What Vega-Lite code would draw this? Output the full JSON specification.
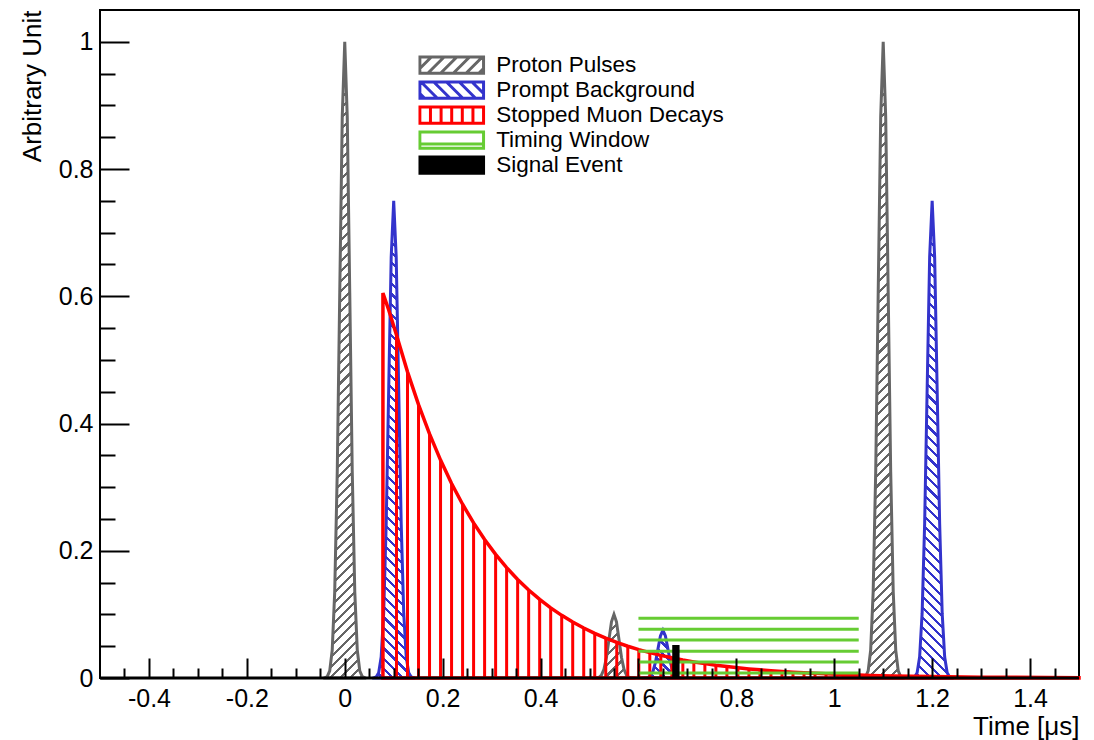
{
"$schema": "https://vega.github.io/schema/vega-lite/v6.json",
"width": 979, "height": 668,
"autosize": {"type": "none"},
"padding": {"left": 100, "top": 10, "right": 15, "bottom": 62},
"background": "white",
"config": {"view": {"stroke": "black", "strokeWidth": 2}, "font": "Liberation Sans"},
"datasets": {
"grayTall": [
{"p":"a","t":-0.0409,"y":0.0003},{"p":"a","t":-0.0358,"y":0.0022},{"p":"a","t":-0.0307,"y":0.0111},{"p":"a","t":-0.0256,"y":0.0439},{"p":"a","t":-0.0205,"y":0.1353},{"p":"a","t":-0.0153,"y":0.3247},{"p":"a","t":-0.0102,"y":0.6065},{"p":"a","t":-0.0051,"y":0.8825},{"p":"a","t":0,"y":1},{"p":"a","t":0.0051,"y":0.8825},{"p":"a","t":0.0102,"y":0.6065},{"p":"a","t":0.0153,"y":0.3247},{"p":"a","t":0.0205,"y":0.1353},{"p":"a","t":0.0256,"y":0.0439},{"p":"a","t":0.0307,"y":0.0111},{"p":"a","t":0.0358,"y":0.0022},{"p":"a","t":0.0409,"y":0.0003},
{"p":"b","t":1.0591,"y":0.0003},{"p":"b","t":1.0642,"y":0.0022},{"p":"b","t":1.0693,"y":0.0111},{"p":"b","t":1.0744,"y":0.0439},{"p":"b","t":1.0795,"y":0.1353},{"p":"b","t":1.0847,"y":0.3247},{"p":"b","t":1.0898,"y":0.6065},{"p":"b","t":1.0949,"y":0.8825},{"p":"b","t":1.1,"y":1},{"p":"b","t":1.1051,"y":0.8825},{"p":"b","t":1.1102,"y":0.6065},{"p":"b","t":1.1153,"y":0.3247},{"p":"b","t":1.1205,"y":0.1353},{"p":"b","t":1.1256,"y":0.0439},{"p":"b","t":1.1307,"y":0.0111},{"p":"b","t":1.1358,"y":0.0022},{"p":"b","t":1.1409,"y":0.0003}
],
"graySmall": [
{"t":0.5091,"y":0.00003},{"t":0.5142,"y":0.0002},{"t":0.5193,"y":0.0011},{"t":0.5244,"y":0.0044},{"t":0.5295,"y":0.0135},{"t":0.5347,"y":0.0325},{"t":0.5398,"y":0.0607},{"t":0.5449,"y":0.0883},{"t":0.55,"y":0.1},{"t":0.5551,"y":0.0883},{"t":0.5602,"y":0.0607},{"t":0.5653,"y":0.0325},{"t":0.5705,"y":0.0135},{"t":0.5756,"y":0.0044},{"t":0.5807,"y":0.0011},{"t":0.5858,"y":0.0002},{"t":0.5909,"y":0.00003}
],
"blueTall": [
{"p":"c","t":0.0591,"y":0.0002},{"p":"c","t":0.0642,"y":0.0017},{"p":"c","t":0.0693,"y":0.0083},{"p":"c","t":0.0744,"y":0.0329},{"p":"c","t":0.0795,"y":0.1015},{"p":"c","t":0.0847,"y":0.2435},{"p":"c","t":0.0898,"y":0.4549},{"p":"c","t":0.0949,"y":0.6619},{"p":"c","t":0.1,"y":0.75},{"p":"c","t":0.1051,"y":0.6619},{"p":"c","t":0.1102,"y":0.4549},{"p":"c","t":0.1153,"y":0.2435},{"p":"c","t":0.1205,"y":0.1015},{"p":"c","t":0.1256,"y":0.0329},{"p":"c","t":0.1307,"y":0.0083},{"p":"c","t":0.1358,"y":0.0017},{"p":"c","t":0.1409,"y":0.0002},
{"p":"d","t":1.1591,"y":0.0002},{"p":"d","t":1.1642,"y":0.0017},{"p":"d","t":1.1693,"y":0.0083},{"p":"d","t":1.1744,"y":0.0329},{"p":"d","t":1.1795,"y":0.1015},{"p":"d","t":1.1847,"y":0.2435},{"p":"d","t":1.1898,"y":0.4549},{"p":"d","t":1.1949,"y":0.6619},{"p":"d","t":1.2,"y":0.75},{"p":"d","t":1.2051,"y":0.6619},{"p":"d","t":1.2102,"y":0.4549},{"p":"d","t":1.2153,"y":0.2435},{"p":"d","t":1.2205,"y":0.1015},{"p":"d","t":1.2256,"y":0.0329},{"p":"d","t":1.2307,"y":0.0083},{"p":"d","t":1.2358,"y":0.0017},{"p":"d","t":1.2409,"y":0.0002}
],
"blueSmall": [
{"t":0.6091,"y":0.00002},{"t":0.6142,"y":0.0002},{"t":0.6193,"y":0.0008},{"t":0.6244,"y":0.0033},{"t":0.6295,"y":0.0101},{"t":0.6347,"y":0.0244},{"t":0.6398,"y":0.0455},{"t":0.6449,"y":0.0662},{"t":0.65,"y":0.075},{"t":0.6551,"y":0.0662},{"t":0.6602,"y":0.0455},{"t":0.6653,"y":0.0244},{"t":0.6705,"y":0.0101},{"t":0.6756,"y":0.0033},{"t":0.6807,"y":0.0008},{"t":0.6858,"y":0.0002},{"t":0.6909,"y":0.00002}
],
"decay": [
{"t":0.078,"y":0.605},{"t":0.09,"y":0.578},
{"t":0.1057,"y":0.539},{"t":0.1282,"y":0.4812},{"t":0.1507,"y":0.4297},{"t":0.1732,"y":0.3836},{"t":0.1957,"y":0.3425},{"t":0.2182,"y":0.3058},{"t":0.2407,"y":0.2731},{"t":0.2632,"y":0.2438},{"t":0.2857,"y":0.2177},{"t":0.3082,"y":0.1943},
{"t":0.3307,"y":0.1735},{"t":0.3532,"y":0.1549},{"t":0.3757,"y":0.1383},{"t":0.3982,"y":0.1235},{"t":0.4207,"y":0.1103},{"t":0.4432,"y":0.0985},{"t":0.4657,"y":0.0879},{"t":0.4882,"y":0.0785},{"t":0.5107,"y":0.0701},{"t":0.5332,"y":0.0626},
{"t":0.5557,"y":0.0559},{"t":0.5782,"y":0.0499},{"t":0.6007,"y":0.0445},{"t":0.6232,"y":0.0398},{"t":0.6457,"y":0.0355},{"t":0.6682,"y":0.0317},{"t":0.6907,"y":0.0283},{"t":0.7132,"y":0.0253},{"t":0.7357,"y":0.0226},{"t":0.7582,"y":0.0201},
{"t":0.7807,"y":0.018},{"t":0.8032,"y":0.016},{"t":0.8257,"y":0.0143},{"t":0.8482,"y":0.0128},{"t":0.8707,"y":0.0114},{"t":0.8932,"y":0.0102},{"t":0.9157,"y":0.0091},{"t":0.9382,"y":0.0081},{"t":0.9607,"y":0.0073},{"t":0.9832,"y":0.0065},
{"t":1.0057,"y":0.0058},{"t":1.0282,"y":0.0052},{"t":1.0507,"y":0.0046},{"t":1.0732,"y":0.0041},{"t":1.0957,"y":0.0037},{"t":1.1182,"y":0.0033},
{"t":1.2,"y":0.0022},{"t":1.3,"y":0.0013},{"t":1.5,"y":0.0005}
],
"window": [
{"t0":0.6,"t1":1.05,"y":0.0938},{"t0":0.6,"t1":1.05,"y":0.0766},{"t0":0.6,"t1":1.05,"y":0.0597},{"t0":0.6,"t1":1.05,"y":0.042},{"t0":0.6,"t1":1.05,"y":0.0251},{"t0":0.6,"t1":1.05,"y":0.0079}
],
"signal": [{"t0":0.669,"t1":0.684,"y":0.0519}],
"baseline": [{"y":0}],
"legend": [{"series":"Proton Pulses"},{"series":"Prompt Background"},{"series":"Stopped Muon Decays"},{"series":"Timing Window"},{"series":"Signal Event"}]
},
"resolve": {"axis": {"x": "independent", "y": "independent"}},
"layer": [
{
"data": {"name": "grayTall"},
"mark": {"type": "area", "stroke": "#666", "strokeWidth": 3,
 "fill": {"gradient": "linear", "x1": 0, "y1": 0, "x2": 0.0667, "y2": 1.06, "stops": [
{"offset":0,"color":"#fff"},{"offset":0,"color":"#666"},{"offset":0.0045,"color":"#666"},{"offset":0.0045,"color":"#fff"},
{"offset":0.015,"color":"#fff"},{"offset":0.015,"color":"#666"},{"offset":0.0195,"color":"#666"},{"offset":0.0195,"color":"#fff"},
{"offset":0.03,"color":"#fff"},{"offset":0.03,"color":"#666"},{"offset":0.0345,"color":"#666"},{"offset":0.0345,"color":"#fff"},
{"offset":0.045,"color":"#fff"},{"offset":0.045,"color":"#666"},{"offset":0.0495,"color":"#666"},{"offset":0.0495,"color":"#fff"},
{"offset":0.06,"color":"#fff"},{"offset":0.06,"color":"#666"},{"offset":0.0645,"color":"#666"},{"offset":0.0645,"color":"#fff"},
{"offset":0.075,"color":"#fff"},{"offset":0.075,"color":"#666"},{"offset":0.0795,"color":"#666"},{"offset":0.0795,"color":"#fff"},
{"offset":0.09,"color":"#fff"},{"offset":0.09,"color":"#666"},{"offset":0.0945,"color":"#666"},{"offset":0.0945,"color":"#fff"},
{"offset":0.105,"color":"#fff"},{"offset":0.105,"color":"#666"},{"offset":0.1095,"color":"#666"},{"offset":0.1095,"color":"#fff"},
{"offset":0.12,"color":"#fff"},{"offset":0.12,"color":"#666"},{"offset":0.1245,"color":"#666"},{"offset":0.1245,"color":"#fff"},
{"offset":0.135,"color":"#fff"},{"offset":0.135,"color":"#666"},{"offset":0.1395,"color":"#666"},{"offset":0.1395,"color":"#fff"},
{"offset":0.15,"color":"#fff"},{"offset":0.15,"color":"#666"},{"offset":0.1545,"color":"#666"},{"offset":0.1545,"color":"#fff"},
{"offset":0.165,"color":"#fff"},{"offset":0.165,"color":"#666"},{"offset":0.1695,"color":"#666"},{"offset":0.1695,"color":"#fff"},
{"offset":0.18,"color":"#fff"},{"offset":0.18,"color":"#666"},{"offset":0.1845,"color":"#666"},{"offset":0.1845,"color":"#fff"},
{"offset":0.195,"color":"#fff"},{"offset":0.195,"color":"#666"},{"offset":0.1995,"color":"#666"},{"offset":0.1995,"color":"#fff"},
{"offset":0.21,"color":"#fff"},{"offset":0.21,"color":"#666"},{"offset":0.2145,"color":"#666"},{"offset":0.2145,"color":"#fff"},
{"offset":0.225,"color":"#fff"},{"offset":0.225,"color":"#666"},{"offset":0.2295,"color":"#666"},{"offset":0.2295,"color":"#fff"},
{"offset":0.24,"color":"#fff"},{"offset":0.24,"color":"#666"},{"offset":0.2445,"color":"#666"},{"offset":0.2445,"color":"#fff"},
{"offset":0.255,"color":"#fff"},{"offset":0.255,"color":"#666"},{"offset":0.2595,"color":"#666"},{"offset":0.2595,"color":"#fff"},
{"offset":0.27,"color":"#fff"},{"offset":0.27,"color":"#666"},{"offset":0.2745,"color":"#666"},{"offset":0.2745,"color":"#fff"},
{"offset":0.285,"color":"#fff"},{"offset":0.285,"color":"#666"},{"offset":0.2895,"color":"#666"},{"offset":0.2895,"color":"#fff"},
{"offset":0.3,"color":"#fff"},{"offset":0.3,"color":"#666"},{"offset":0.3045,"color":"#666"},{"offset":0.3045,"color":"#fff"},
{"offset":0.315,"color":"#fff"},{"offset":0.315,"color":"#666"},{"offset":0.3195,"color":"#666"},{"offset":0.3195,"color":"#fff"},
{"offset":0.33,"color":"#fff"},{"offset":0.33,"color":"#666"},{"offset":0.3345,"color":"#666"},{"offset":0.3345,"color":"#fff"},
{"offset":0.345,"color":"#fff"},{"offset":0.345,"color":"#666"},{"offset":0.3495,"color":"#666"},{"offset":0.3495,"color":"#fff"},
{"offset":0.36,"color":"#fff"},{"offset":0.36,"color":"#666"},{"offset":0.3645,"color":"#666"},{"offset":0.3645,"color":"#fff"},
{"offset":0.375,"color":"#fff"},{"offset":0.375,"color":"#666"},{"offset":0.3795,"color":"#666"},{"offset":0.3795,"color":"#fff"},
{"offset":0.39,"color":"#fff"},{"offset":0.39,"color":"#666"},{"offset":0.3945,"color":"#666"},{"offset":0.3945,"color":"#fff"},
{"offset":0.405,"color":"#fff"},{"offset":0.405,"color":"#666"},{"offset":0.4095,"color":"#666"},{"offset":0.4095,"color":"#fff"},
{"offset":0.42,"color":"#fff"},{"offset":0.42,"color":"#666"},{"offset":0.4245,"color":"#666"},{"offset":0.4245,"color":"#fff"},
{"offset":0.435,"color":"#fff"},{"offset":0.435,"color":"#666"},{"offset":0.4395,"color":"#666"},{"offset":0.4395,"color":"#fff"},
{"offset":0.45,"color":"#fff"},{"offset":0.45,"color":"#666"},{"offset":0.4545,"color":"#666"},{"offset":0.4545,"color":"#fff"},
{"offset":0.465,"color":"#fff"},{"offset":0.465,"color":"#666"},{"offset":0.4695,"color":"#666"},{"offset":0.4695,"color":"#fff"},
{"offset":0.48,"color":"#fff"},{"offset":0.48,"color":"#666"},{"offset":0.4845,"color":"#666"},{"offset":0.4845,"color":"#fff"},
{"offset":0.495,"color":"#fff"},{"offset":0.495,"color":"#666"},{"offset":0.4995,"color":"#666"},{"offset":0.4995,"color":"#fff"},
{"offset":0.51,"color":"#fff"},{"offset":0.51,"color":"#666"},{"offset":0.5145,"color":"#666"},{"offset":0.5145,"color":"#fff"},
{"offset":0.525,"color":"#fff"},{"offset":0.525,"color":"#666"},{"offset":0.5295,"color":"#666"},{"offset":0.5295,"color":"#fff"},
{"offset":0.54,"color":"#fff"},{"offset":0.54,"color":"#666"},{"offset":0.5445,"color":"#666"},{"offset":0.5445,"color":"#fff"},
{"offset":0.555,"color":"#fff"},{"offset":0.555,"color":"#666"},{"offset":0.5595,"color":"#666"},{"offset":0.5595,"color":"#fff"},
{"offset":0.57,"color":"#fff"},{"offset":0.57,"color":"#666"},{"offset":0.5745,"color":"#666"},{"offset":0.5745,"color":"#fff"},
{"offset":0.585,"color":"#fff"},{"offset":0.585,"color":"#666"},{"offset":0.5895,"color":"#666"},{"offset":0.5895,"color":"#fff"},
{"offset":0.6,"color":"#fff"},{"offset":0.6,"color":"#666"},{"offset":0.6045,"color":"#666"},{"offset":0.6045,"color":"#fff"},
{"offset":0.615,"color":"#fff"},{"offset":0.615,"color":"#666"},{"offset":0.6195,"color":"#666"},{"offset":0.6195,"color":"#fff"},
{"offset":0.63,"color":"#fff"},{"offset":0.63,"color":"#666"},{"offset":0.6345,"color":"#666"},{"offset":0.6345,"color":"#fff"},
{"offset":0.645,"color":"#fff"},{"offset":0.645,"color":"#666"},{"offset":0.6495,"color":"#666"},{"offset":0.6495,"color":"#fff"},
{"offset":0.66,"color":"#fff"},{"offset":0.66,"color":"#666"},{"offset":0.6645,"color":"#666"},{"offset":0.6645,"color":"#fff"},
{"offset":0.675,"color":"#fff"},{"offset":0.675,"color":"#666"},{"offset":0.6795,"color":"#666"},{"offset":0.6795,"color":"#fff"},
{"offset":0.69,"color":"#fff"},{"offset":0.69,"color":"#666"},{"offset":0.6945,"color":"#666"},{"offset":0.6945,"color":"#fff"},
{"offset":0.705,"color":"#fff"},{"offset":0.705,"color":"#666"},{"offset":0.7095,"color":"#666"},{"offset":0.7095,"color":"#fff"},
{"offset":0.72,"color":"#fff"},{"offset":0.72,"color":"#666"},{"offset":0.7245,"color":"#666"},{"offset":0.7245,"color":"#fff"},
{"offset":0.735,"color":"#fff"},{"offset":0.735,"color":"#666"},{"offset":0.7395,"color":"#666"},{"offset":0.7395,"color":"#fff"},
{"offset":0.75,"color":"#fff"},{"offset":0.75,"color":"#666"},{"offset":0.7545,"color":"#666"},{"offset":0.7545,"color":"#fff"},
{"offset":0.765,"color":"#fff"},{"offset":0.765,"color":"#666"},{"offset":0.7695,"color":"#666"},{"offset":0.7695,"color":"#fff"},
{"offset":0.78,"color":"#fff"},{"offset":0.78,"color":"#666"},{"offset":0.7845,"color":"#666"},{"offset":0.7845,"color":"#fff"},
{"offset":0.795,"color":"#fff"},{"offset":0.795,"color":"#666"},{"offset":0.7995,"color":"#666"},{"offset":0.7995,"color":"#fff"},
{"offset":0.81,"color":"#fff"},{"offset":0.81,"color":"#666"},{"offset":0.8145,"color":"#666"},{"offset":0.8145,"color":"#fff"},
{"offset":0.825,"color":"#fff"},{"offset":0.825,"color":"#666"},{"offset":0.8295,"color":"#666"},{"offset":0.8295,"color":"#fff"},
{"offset":0.84,"color":"#fff"},{"offset":0.84,"color":"#666"},{"offset":0.8445,"color":"#666"},{"offset":0.8445,"color":"#fff"},
{"offset":0.855,"color":"#fff"},{"offset":0.855,"color":"#666"},{"offset":0.8595,"color":"#666"},{"offset":0.8595,"color":"#fff"},
{"offset":0.87,"color":"#fff"},{"offset":0.87,"color":"#666"},{"offset":0.8745,"color":"#666"},{"offset":0.8745,"color":"#fff"},
{"offset":0.885,"color":"#fff"},{"offset":0.885,"color":"#666"},{"offset":0.8895,"color":"#666"},{"offset":0.8895,"color":"#fff"},
{"offset":0.9,"color":"#fff"},{"offset":0.9,"color":"#666"},{"offset":0.9045,"color":"#666"},{"offset":0.9045,"color":"#fff"},
{"offset":0.915,"color":"#fff"},{"offset":0.915,"color":"#666"},{"offset":0.9195,"color":"#666"},{"offset":0.9195,"color":"#fff"},
{"offset":0.93,"color":"#fff"},{"offset":0.93,"color":"#666"},{"offset":0.9345,"color":"#666"},{"offset":0.9345,"color":"#fff"},
{"offset":0.945,"color":"#fff"},{"offset":0.945,"color":"#666"},{"offset":0.9495,"color":"#666"},{"offset":0.9495,"color":"#fff"},
{"offset":0.96,"color":"#fff"},{"offset":0.96,"color":"#666"},{"offset":0.9645,"color":"#666"},{"offset":0.9645,"color":"#fff"},
{"offset":0.975,"color":"#fff"},{"offset":0.975,"color":"#666"},{"offset":0.9795,"color":"#666"},{"offset":0.9795,"color":"#fff"},
{"offset":0.99,"color":"#fff"},{"offset":0.99,"color":"#666"},{"offset":0.9945,"color":"#666"},{"offset":0.9945,"color":"#fff"}
]}},
"encoding": {
"x": {"field": "t", "type": "quantitative", "scale": {"domain": [-0.5, 1.5], "nice": false, "zero": false},
 "axis": {"orient": "bottom", "offset": -20, "tickSize": 20, "tickWidth": 2, "tickColor": "black", "domain": false, "grid": false,
  "values": [-0.4, -0.2, 0, 0.2, 0.4, 0.6, 0.8, 1, 1.2, 1.4], "labelExpr": "datum.value + ''",
  "labelFont": "Liberation Sans", "labelFontSize": 25, "labelColor": "black", "labelPadding": 8, "labelFlush": false, "labelOverlap": false, "labelBound": false,
  "title": "Time [μs]", "titleAnchor": "end", "titleFont": "Liberation Sans", "titleFontSize": 26, "titleFontWeight": "normal", "titleColor": "black", "titlePadding": 2, "zindex": 1}},
"y": {"field": "y", "type": "quantitative", "stack": null, "scale": {"domain": [0, 1.05], "nice": false, "zero": false},
 "axis": {"orient": "left", "offset": -29, "tickSize": 29, "tickWidth": 2, "tickColor": "black", "domain": false, "grid": false,
  "values": [0, 0.2, 0.4, 0.6, 0.8, 1], "labelExpr": "datum.value + ''",
  "labelFont": "Liberation Sans", "labelFontSize": 25, "labelColor": "black", "labelPadding": 7, "labelFlush": false, "labelOverlap": false, "labelBound": false,
  "title": "Arbitrary Unit", "titleAnchor": "end", "titleFont": "Liberation Sans", "titleFontSize": 26, "titleFontWeight": "normal", "titleColor": "black", "titlePadding": 13, "zindex": 1}},
"detail": {"field": "p"}
}
},
{
"data": {"name": "graySmall"},
"mark": {"type": "area", "stroke": "#666", "strokeWidth": 3,
 "fill": {"gradient": "linear", "x1": 0, "y1": 0, "x2": 0.7346, "y2": 1.167, "stops": [
{"offset":0,"color":"#fff"},{"offset":0,"color":"#666"},{"offset":0.03,"color":"#666"},{"offset":0.03,"color":"#fff"},
{"offset":0.1,"color":"#fff"},{"offset":0.1,"color":"#666"},{"offset":0.13,"color":"#666"},{"offset":0.13,"color":"#fff"},
{"offset":0.2,"color":"#fff"},{"offset":0.2,"color":"#666"},{"offset":0.23,"color":"#666"},{"offset":0.23,"color":"#fff"},
{"offset":0.3,"color":"#fff"},{"offset":0.3,"color":"#666"},{"offset":0.33,"color":"#666"},{"offset":0.33,"color":"#fff"},
{"offset":0.4,"color":"#fff"},{"offset":0.4,"color":"#666"},{"offset":0.43,"color":"#666"},{"offset":0.43,"color":"#fff"},
{"offset":0.5,"color":"#fff"},{"offset":0.5,"color":"#666"},{"offset":0.53,"color":"#666"},{"offset":0.53,"color":"#fff"},
{"offset":0.6,"color":"#fff"},{"offset":0.6,"color":"#666"},{"offset":0.63,"color":"#666"},{"offset":0.63,"color":"#fff"},
{"offset":0.7,"color":"#fff"},{"offset":0.7,"color":"#666"},{"offset":0.73,"color":"#666"},{"offset":0.73,"color":"#fff"},
{"offset":0.8,"color":"#fff"},{"offset":0.8,"color":"#666"},{"offset":0.83,"color":"#666"},{"offset":0.83,"color":"#fff"},
{"offset":0.9,"color":"#fff"},{"offset":0.9,"color":"#666"},{"offset":0.93,"color":"#666"},{"offset":0.93,"color":"#fff"}
]}},
"encoding": {
"x": {"field": "t", "type": "quantitative",
 "axis": {"orient": "bottom", "offset": -10, "tickSize": 10, "tickWidth": 2, "tickColor": "black", "domain": false, "grid": false, "labels": false, "title": null, "zindex": 1,
  "values": [-0.45, -0.35, -0.3, -0.25, -0.15, -0.1, -0.05, 0.05, 0.1, 0.15, 0.25, 0.3, 0.35, 0.45, 0.5, 0.55, 0.65, 0.7, 0.75, 0.85, 0.9, 0.95, 1.05, 1.1, 1.15, 1.25, 1.3, 1.35, 1.45]}},
"y": {"field": "y", "type": "quantitative", "stack": null,
 "axis": {"orient": "left", "offset": -15, "tickSize": 15, "tickWidth": 2, "tickColor": "black", "domain": false, "grid": false, "labels": false, "title": null, "zindex": 1,
  "values": [0.05, 0.1, 0.15, 0.25, 0.3, 0.35, 0.45, 0.5, 0.55, 0.65, 0.7, 0.75, 0.85, 0.9, 0.95]}}
}
},
{
"data": {"name": "blueTall"},
"mark": {"type": "area", "stroke": "#33c", "strokeWidth": 3,
 "fill": {"gradient": "linear", "x1": 1, "y1": 0, "x2": 0.9097, "y2": 1.0763, "stops": [
{"offset":0,"color":"#fff"},{"offset":0,"color":"#33c"},{"offset":0.006,"color":"#33c"},{"offset":0.006,"color":"#fff"},
{"offset":0.02,"color":"#fff"},{"offset":0.02,"color":"#33c"},{"offset":0.026,"color":"#33c"},{"offset":0.026,"color":"#fff"},
{"offset":0.04,"color":"#fff"},{"offset":0.04,"color":"#33c"},{"offset":0.046,"color":"#33c"},{"offset":0.046,"color":"#fff"},
{"offset":0.06,"color":"#fff"},{"offset":0.06,"color":"#33c"},{"offset":0.066,"color":"#33c"},{"offset":0.066,"color":"#fff"},
{"offset":0.08,"color":"#fff"},{"offset":0.08,"color":"#33c"},{"offset":0.086,"color":"#33c"},{"offset":0.086,"color":"#fff"},
{"offset":0.1,"color":"#fff"},{"offset":0.1,"color":"#33c"},{"offset":0.106,"color":"#33c"},{"offset":0.106,"color":"#fff"},
{"offset":0.12,"color":"#fff"},{"offset":0.12,"color":"#33c"},{"offset":0.126,"color":"#33c"},{"offset":0.126,"color":"#fff"},
{"offset":0.14,"color":"#fff"},{"offset":0.14,"color":"#33c"},{"offset":0.146,"color":"#33c"},{"offset":0.146,"color":"#fff"},
{"offset":0.16,"color":"#fff"},{"offset":0.16,"color":"#33c"},{"offset":0.166,"color":"#33c"},{"offset":0.166,"color":"#fff"},
{"offset":0.18,"color":"#fff"},{"offset":0.18,"color":"#33c"},{"offset":0.186,"color":"#33c"},{"offset":0.186,"color":"#fff"},
{"offset":0.2,"color":"#fff"},{"offset":0.2,"color":"#33c"},{"offset":0.206,"color":"#33c"},{"offset":0.206,"color":"#fff"},
{"offset":0.22,"color":"#fff"},{"offset":0.22,"color":"#33c"},{"offset":0.226,"color":"#33c"},{"offset":0.226,"color":"#fff"},
{"offset":0.24,"color":"#fff"},{"offset":0.24,"color":"#33c"},{"offset":0.246,"color":"#33c"},{"offset":0.246,"color":"#fff"},
{"offset":0.26,"color":"#fff"},{"offset":0.26,"color":"#33c"},{"offset":0.266,"color":"#33c"},{"offset":0.266,"color":"#fff"},
{"offset":0.28,"color":"#fff"},{"offset":0.28,"color":"#33c"},{"offset":0.286,"color":"#33c"},{"offset":0.286,"color":"#fff"},
{"offset":0.3,"color":"#fff"},{"offset":0.3,"color":"#33c"},{"offset":0.306,"color":"#33c"},{"offset":0.306,"color":"#fff"},
{"offset":0.32,"color":"#fff"},{"offset":0.32,"color":"#33c"},{"offset":0.326,"color":"#33c"},{"offset":0.326,"color":"#fff"},
{"offset":0.34,"color":"#fff"},{"offset":0.34,"color":"#33c"},{"offset":0.346,"color":"#33c"},{"offset":0.346,"color":"#fff"},
{"offset":0.36,"color":"#fff"},{"offset":0.36,"color":"#33c"},{"offset":0.366,"color":"#33c"},{"offset":0.366,"color":"#fff"},
{"offset":0.38,"color":"#fff"},{"offset":0.38,"color":"#33c"},{"offset":0.386,"color":"#33c"},{"offset":0.386,"color":"#fff"},
{"offset":0.4,"color":"#fff"},{"offset":0.4,"color":"#33c"},{"offset":0.406,"color":"#33c"},{"offset":0.406,"color":"#fff"},
{"offset":0.42,"color":"#fff"},{"offset":0.42,"color":"#33c"},{"offset":0.426,"color":"#33c"},{"offset":0.426,"color":"#fff"},
{"offset":0.44,"color":"#fff"},{"offset":0.44,"color":"#33c"},{"offset":0.446,"color":"#33c"},{"offset":0.446,"color":"#fff"},
{"offset":0.46,"color":"#fff"},{"offset":0.46,"color":"#33c"},{"offset":0.466,"color":"#33c"},{"offset":0.466,"color":"#fff"},
{"offset":0.48,"color":"#fff"},{"offset":0.48,"color":"#33c"},{"offset":0.486,"color":"#33c"},{"offset":0.486,"color":"#fff"},
{"offset":0.5,"color":"#fff"},{"offset":0.5,"color":"#33c"},{"offset":0.506,"color":"#33c"},{"offset":0.506,"color":"#fff"},
{"offset":0.52,"color":"#fff"},{"offset":0.52,"color":"#33c"},{"offset":0.526,"color":"#33c"},{"offset":0.526,"color":"#fff"},
{"offset":0.54,"color":"#fff"},{"offset":0.54,"color":"#33c"},{"offset":0.546,"color":"#33c"},{"offset":0.546,"color":"#fff"},
{"offset":0.56,"color":"#fff"},{"offset":0.56,"color":"#33c"},{"offset":0.566,"color":"#33c"},{"offset":0.566,"color":"#fff"},
{"offset":0.58,"color":"#fff"},{"offset":0.58,"color":"#33c"},{"offset":0.586,"color":"#33c"},{"offset":0.586,"color":"#fff"},
{"offset":0.6,"color":"#fff"},{"offset":0.6,"color":"#33c"},{"offset":0.606,"color":"#33c"},{"offset":0.606,"color":"#fff"},
{"offset":0.62,"color":"#fff"},{"offset":0.62,"color":"#33c"},{"offset":0.626,"color":"#33c"},{"offset":0.626,"color":"#fff"},
{"offset":0.64,"color":"#fff"},{"offset":0.64,"color":"#33c"},{"offset":0.646,"color":"#33c"},{"offset":0.646,"color":"#fff"},
{"offset":0.66,"color":"#fff"},{"offset":0.66,"color":"#33c"},{"offset":0.666,"color":"#33c"},{"offset":0.666,"color":"#fff"},
{"offset":0.68,"color":"#fff"},{"offset":0.68,"color":"#33c"},{"offset":0.686,"color":"#33c"},{"offset":0.686,"color":"#fff"},
{"offset":0.7,"color":"#fff"},{"offset":0.7,"color":"#33c"},{"offset":0.706,"color":"#33c"},{"offset":0.706,"color":"#fff"},
{"offset":0.72,"color":"#fff"},{"offset":0.72,"color":"#33c"},{"offset":0.726,"color":"#33c"},{"offset":0.726,"color":"#fff"},
{"offset":0.74,"color":"#fff"},{"offset":0.74,"color":"#33c"},{"offset":0.746,"color":"#33c"},{"offset":0.746,"color":"#fff"},
{"offset":0.76,"color":"#fff"},{"offset":0.76,"color":"#33c"},{"offset":0.766,"color":"#33c"},{"offset":0.766,"color":"#fff"},
{"offset":0.78,"color":"#fff"},{"offset":0.78,"color":"#33c"},{"offset":0.786,"color":"#33c"},{"offset":0.786,"color":"#fff"},
{"offset":0.8,"color":"#fff"},{"offset":0.8,"color":"#33c"},{"offset":0.806,"color":"#33c"},{"offset":0.806,"color":"#fff"},
{"offset":0.82,"color":"#fff"},{"offset":0.82,"color":"#33c"},{"offset":0.826,"color":"#33c"},{"offset":0.826,"color":"#fff"},
{"offset":0.84,"color":"#fff"},{"offset":0.84,"color":"#33c"},{"offset":0.846,"color":"#33c"},{"offset":0.846,"color":"#fff"},
{"offset":0.86,"color":"#fff"},{"offset":0.86,"color":"#33c"},{"offset":0.866,"color":"#33c"},{"offset":0.866,"color":"#fff"},
{"offset":0.88,"color":"#fff"},{"offset":0.88,"color":"#33c"},{"offset":0.886,"color":"#33c"},{"offset":0.886,"color":"#fff"},
{"offset":0.9,"color":"#fff"},{"offset":0.9,"color":"#33c"},{"offset":0.906,"color":"#33c"},{"offset":0.906,"color":"#fff"},
{"offset":0.92,"color":"#fff"},{"offset":0.92,"color":"#33c"},{"offset":0.926,"color":"#33c"},{"offset":0.926,"color":"#fff"},
{"offset":0.94,"color":"#fff"},{"offset":0.94,"color":"#33c"},{"offset":0.946,"color":"#33c"},{"offset":0.946,"color":"#fff"},
{"offset":0.96,"color":"#fff"},{"offset":0.96,"color":"#33c"},{"offset":0.966,"color":"#33c"},{"offset":0.966,"color":"#fff"},
{"offset":0.98,"color":"#fff"},{"offset":0.98,"color":"#33c"},{"offset":0.986,"color":"#33c"},{"offset":0.986,"color":"#fff"}
]}},
"encoding": {
"x": {"field": "t", "type": "quantitative", "axis": null},
"y": {"field": "y", "type": "quantitative", "stack": null, "axis": null},
"detail": {"field": "p"}
}
},
{
"data": {"name": "blueSmall"},
"mark": {"type": "area", "stroke": "#33c", "strokeWidth": 3,
 "fill": {"gradient": "linear", "x1": 1, "y1": 0, "x2": 0.0945, "y2": 1.0793, "stops": [
{"offset":0,"color":"#fff"},{"offset":0,"color":"#33c"},{"offset":0.036,"color":"#33c"},{"offset":0.036,"color":"#fff"},
{"offset":0.12,"color":"#fff"},{"offset":0.12,"color":"#33c"},{"offset":0.156,"color":"#33c"},{"offset":0.156,"color":"#fff"},
{"offset":0.24,"color":"#fff"},{"offset":0.24,"color":"#33c"},{"offset":0.276,"color":"#33c"},{"offset":0.276,"color":"#fff"},
{"offset":0.36,"color":"#fff"},{"offset":0.36,"color":"#33c"},{"offset":0.396,"color":"#33c"},{"offset":0.396,"color":"#fff"},
{"offset":0.48,"color":"#fff"},{"offset":0.48,"color":"#33c"},{"offset":0.516,"color":"#33c"},{"offset":0.516,"color":"#fff"},
{"offset":0.6,"color":"#fff"},{"offset":0.6,"color":"#33c"},{"offset":0.636,"color":"#33c"},{"offset":0.636,"color":"#fff"},
{"offset":0.72,"color":"#fff"},{"offset":0.72,"color":"#33c"},{"offset":0.756,"color":"#33c"},{"offset":0.756,"color":"#fff"},
{"offset":0.84,"color":"#fff"},{"offset":0.84,"color":"#33c"},{"offset":0.876,"color":"#33c"},{"offset":0.876,"color":"#fff"},
{"offset":0.96,"color":"#fff"},{"offset":0.96,"color":"#33c"},{"offset":0.996,"color":"#33c"},{"offset":0.996,"color":"#fff"}
]}},
"encoding": {
"x": {"field": "t", "type": "quantitative", "axis": null},
"y": {"field": "y", "type": "quantitative", "stack": null, "axis": null}
}
},
{
"data": {"name": "decay"},
"mark": {"type": "area", "fillOpacity": 0, "stroke": "#f00", "strokeWidth": 3.5},
"encoding": {
"x": {"field": "t", "type": "quantitative", "axis": null},
"y": {"field": "y", "type": "quantitative", "stack": null, "axis": null}
}
},
{
"data": {"name": "decay"},
"transform": [{"filter": "datum.t > 0.1 && datum.t < 1.15"}],
"mark": {"type": "rule", "stroke": "#f00", "strokeWidth": 3},
"encoding": {
"x": {"field": "t", "type": "quantitative", "axis": null},
"y": {"field": "y", "type": "quantitative", "axis": null},
"y2": {"datum": 0}
}
},
{
"data": {"name": "baseline"},
"mark": {"type": "rule", "stroke": "black", "strokeWidth": 3},
"encoding": {
"y": {"field": "y", "type": "quantitative", "axis": null}
}
},
{
"data": {"name": "window"},
"mark": {"type": "rule", "stroke": "#6c3", "strokeWidth": 3},
"encoding": {
"x": {"field": "t0", "type": "quantitative", "axis": null},
"x2": {"field": "t1"},
"y": {"field": "y", "type": "quantitative", "axis": null}
}
},
{
"data": {"name": "signal"},
"mark": {"type": "rect", "fill": "black"},
"encoding": {
"x": {"field": "t0", "type": "quantitative", "axis": null},
"x2": {"field": "t1"},
"y": {"field": "y", "type": "quantitative", "axis": null},
"y2": {"datum": 0}
}
},
{
"data": {"name": "legend"},
"mark": {"type": "point", "opacity": 0, "filled": false},
"encoding": {
"stroke": {"field": "series", "type": "nominal",
 "scale": {"domain": ["Proton Pulses", "Prompt Background", "Stopped Muon Decays", "Timing Window", "Signal Event"], "range": ["#666", "#33c", "#f00", "#6c3", "#000"]},
 "legend": {"title": null, "orient": "none", "legendX": 318.2, "legendY": 42.6, "padding": 0, "rowPadding": 0, "clipHeight": 25, "symbolSize": 4058, "symbolStrokeWidth": 3, "symbolOpacity": 1, "symbolFillColor": "transparent", "labelFont": "Liberation Sans", "labelFontSize": 22.5, "labelColor": "black", "labelOffset": 11, "labelLimit": 500}},
"shape": {"field": "series", "type": "nominal",
 "scale": {"domain": ["Proton Pulses", "Prompt Background", "Stopped Muon Decays", "Timing Window", "Signal Event"],
  "range": [
   "M-1,-0.256H1V0.256H-1ZM-1,0.106L-0.638,-0.256M-0.75,0.256L-0.238,-0.256M-0.35,0.256L0.162,-0.256M0.05,0.256L0.562,-0.256M0.45,0.256L0.962,-0.256M0.85,0.256L1,0.106",
   "M-1,-0.256H1V0.256H-1ZM1,0.106L0.638,-0.256M0.75,0.256L0.238,-0.256M0.35,0.256L-0.162,-0.256M-0.05,0.256L-0.562,-0.256M-0.45,0.256L-0.962,-0.256M-0.85,0.256L-1,0.106",
   "M-1,-0.256H1V0.256H-1ZM-0.667,-0.256V0.256M-0.333,-0.256V0.256M0,-0.256V0.256M0.333,-0.256V0.256M0.667,-0.256V0.256",
   "M-1,-0.256H1V0.256H-1ZM-1,0.12H1",
   "M-1,-0.256H1V0.256H-1ZM-1,-0.2H1M-1,-0.15H1M-1,-0.1H1M-1,-0.05H1M-1,0H1M-1,0.05H1M-1,0.1H1M-1,0.15H1M-1,0.2H1"
  ]},
 "legend": {"title": null, "orient": "none", "legendX": 318.2, "legendY": 42.6, "padding": 0, "rowPadding": 0, "clipHeight": 25, "symbolSize": 4058, "symbolStrokeWidth": 3, "symbolOpacity": 1, "symbolFillColor": "transparent", "labelFont": "Liberation Sans", "labelFontSize": 22.5, "labelColor": "black", "labelOffset": 11, "labelLimit": 500}}
}
}
]
}
